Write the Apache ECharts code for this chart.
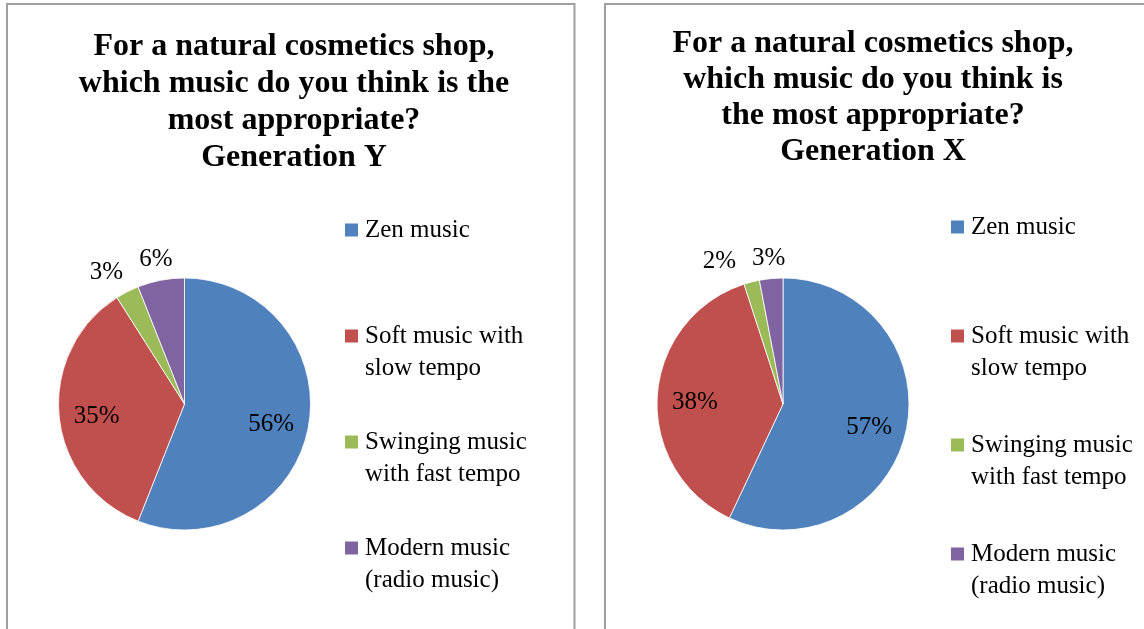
<!DOCTYPE html>
<html>
<head>
<meta charset="utf-8">
<script src="https://cdn.jsdelivr.net/npm/echarts@6/dist/echarts.min.js"></script>
<style>
  html, body { margin: 0; padding: 0; background: #fff; }
  #chart { width: 1144px; height: 629px; }
</style>
</head>
<body>
<div id="chart"></div>
<script>
// categories and values
var categories = ['Zen music', 'Soft music with\nslow tempo', 'Swinging music\nwith fast tempo', 'Modern music\n(radio music)'];
var genYValues = [56, 35, 3, 6];
var genXValues = [57, 38, 2, 3];
var titleY = 'For a natural cosmetics shop,\nwhich music do you think is the\nmost appropriate?\nGeneration Y';
var titleX = 'For a natural cosmetics shop,\nwhich music do you think is\nthe most appropriate?\nGeneration X';

var colors = ['#4F81BD', '#C0504D', '#9BBB59', '#8064A2'];
var serif = '"Liberation Serif", "Times New Roman", serif';
var R = 126;

// measure label width
var ctx = document.createElement('canvas').getContext('2d');
ctx.font = '25px "Liberation Serif"';

// label spots like excel: big slices inside, small ones just outside
function labelSpots(values, cx, cy, r) {
	var total = 0, acc = 0, spots = [];
	for (var i in values) total += values[i];
	for (var i = 0; i < values.length; i++) {
		var v = values[i];
		var mid = (acc + v / 2) / total * Math.PI * 2;
		acc += v;
		var dx = Math.sin(mid), dy = -Math.cos(mid);
		var w = ctx.measureText(v + '%').width, h = 25;
		if (v / total >= 0.1) {
			spots.push({x: cx + dx * r * 0.7, y: cy + dy * r * 0.7 + 4, w: w, h: h, out: false});
		} else {
			var m = Math.max(Math.abs(dx), Math.abs(dy));
			var px = cx + dx * (r + 10), py = cy + dy * (r + 10);
			spots.push({x: px + dx / m * w / 2, y: py + dy / m * h / 2 + 2, w: w, h: h, out: true});
		}
	}
	// push overlapping outside labels apart
	for (var i = 0; i < spots.length - 1; i++) {
		var a = spots[i], b = spots[i + 1];
		if (!a.out || !b.out) continue;
		var ox = (a.w + b.w) / 2 + 16 - Math.abs(a.x - b.x);
		if (ox > 0 && Math.abs(a.y - b.y) < (a.h + b.h) / 2) {
			if (a.x < b.x) a.x -= ox; else a.x += ox;
		}
	}
	return spots;
}

function makeSeries(values, cx, cy) {
	var spots = labelSpots(values, cx, cy, R);
	var data = [];
	for (var i = 0; i < values.length; i++) {
		data.push({name: categories[i], value: values[i], itemStyle: {color: colors[i]}});
	}
	return {
		type: 'pie',
		center: [cx, cy],
		radius: R,
		startAngle: 90,
		clockwise: true,
		avoidLabelOverlap: false,
		silent: true,
		itemStyle: {borderColor: '#fff', borderWidth: 0.8},
		label: {
			show: true,
			position: 'inside',
			formatter: '{c}%',
			color: '#000',
			fontFamily: serif,
			fontSize: 25
		},
		labelLine: {show: false},
		labelLayout: function (p) {
			var s = spots[p.dataIndex];
			return {x: s.x, y: s.y, align: 'center', verticalAlign: 'middle'};
		},
		emphasis: {disabled: true},
		data: data
	};
}

function makeLegend(left, top, gap) {
	return {
		orient: 'vertical',
		left: left,
		top: top,
		padding: 0,
		itemWidth: 13,
		itemHeight: 45,
		itemGap: gap,
		icon: 'path://M0,0H13V13H0Z M0,45H0.01V45.01H0Z',
		selectedMode: false,
		itemStyle: {borderWidth: 0},
		textStyle: {fontFamily: serif, fontSize: 25, lineHeight: 32, color: '#000', padding: [0, 0, 0, 2]},
		formatter: function (name) {
			return name.indexOf('\n') < 0 ? name + '\n ' : name;
		},
		data: categories
	};
}

var titleStyle = {fontFamily: serif, fontWeight: 'bold', fontSize: 32, color: '#000'};

option = {
	backgroundColor: '#fff',
	animation: false,
	title: [
		{text: titleY, left: 294, top: 28, textAlign: 'center', padding: 0,
			textStyle: Object.assign({lineHeight: 37}, titleStyle)},
		{text: titleX, left: 873, top: 26, textAlign: 'center', padding: 0,
			textStyle: Object.assign({lineHeight: 36}, titleStyle)}
	],
	legend: [
		makeLegend(345, 214, 42),
		makeLegend(951, 211, 45)
	],
	graphic: [
		{type: 'rect', silent: true, shape: {x: 7, y: 4, width: 567.5, height: 700},
			style: {fill: 'none', stroke: '#a0a0a0', lineWidth: 2}},
		{type: 'rect', silent: true, shape: {x: 605, y: 4, width: 700, height: 700},
			style: {fill: 'none', stroke: '#a0a0a0', lineWidth: 2}}
	],
	series: [
		makeSeries(genYValues, 184.5, 404),
		makeSeries(genXValues, 783, 404)
	]
};

var myChart = echarts.init(document.getElementById('chart'));
myChart.setOption(option, true);
</script>
</body>
</html>
